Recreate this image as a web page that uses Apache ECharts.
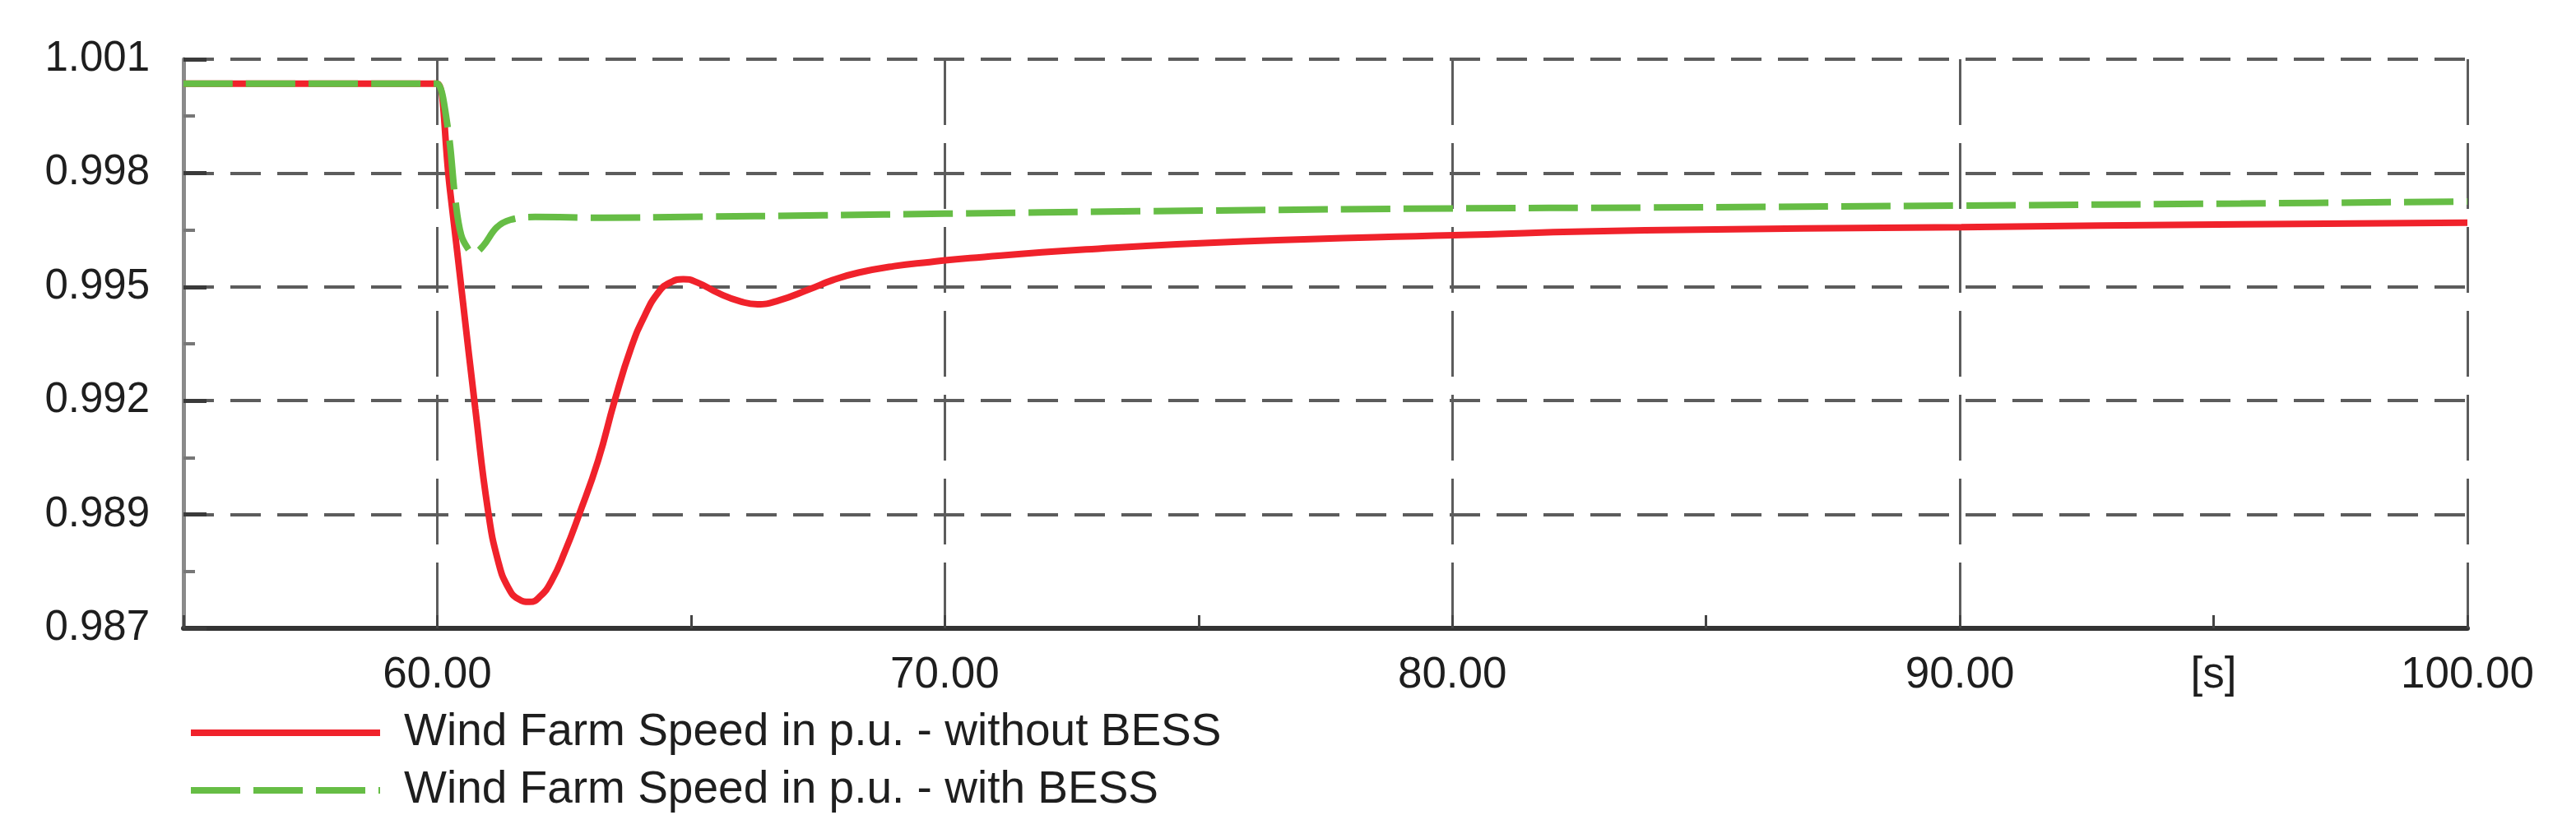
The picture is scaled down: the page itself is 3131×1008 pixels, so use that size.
<!DOCTYPE html>
<html>
<head>
<meta charset="utf-8">
<script src="https://cdn.jsdelivr.net/npm/echarts@6/dist/echarts.min.js"></script>
<style>
html,body{margin:0;padding:0;background:#fff;}
#chart{width:3131px;height:1008px;}
</style>
</head>
<body>
<div id="chart"></div>
<script>
// ---- data ----
const redName = 'Wind Farm Speed in p.u. - without BESS';
const greenName = 'Wind Farm Speed in p.u. - with BESS';

const redTime  = [55, 59.95, 60.0, 60.25, 60.5, 60.75, 61.0, 61.2, 61.4, 61.6, 61.82, 62.03, 62.25, 62.52, 62.79, 63.17, 63.5, 63.82, 64.09, 64.36, 64.58, 64.85, 65.12, 65.55, 65.98, 66.31, 66.74, 67.33, 67.8, 68.3, 69.0, 69.7, 70.5, 72.78, 75.88, 80.02, 83.8, 90.03, 95.53, 100];
const redSpeed = [1.0004, 1.0004, 1.0004, 0.99780, 0.99510, 0.99240, 0.98990, 0.98865, 0.98800, 0.98772, 0.98765, 0.98779, 0.98816, 0.98890, 0.98978, 0.99113, 0.99262, 0.99390, 0.99470, 0.99527, 0.99550, 0.99559, 0.99551, 0.99524, 0.99504, 0.99497, 0.99507, 0.99534, 0.99557, 0.99575, 0.99591, 0.99601, 0.99611, 0.99632, 0.99652, 0.99667, 0.99679, 0.99687, 0.99694, 0.99698];

const greenTime  = [55, 59.95, 60.0, 60.2, 60.36, 60.47, 60.6, 60.71, 60.9, 61.17, 61.44, 61.93, 63.27, 64.9, 67.6, 70.0, 73.81, 80.0, 83.8, 90.03, 95.53, 100];
const greenSpeed = [1.0004, 1.0004, 1.0004, 0.99938, 0.99751, 0.99668, 0.99635, 0.99623, 0.99640, 0.99686, 0.99705, 0.99712, 0.99710, 0.99712, 0.99716, 0.99720, 0.99726, 0.99733, 0.99735, 0.99740, 0.99745, 0.99750];

const yTickLabels = ['0.987', '0.989', '0.992', '0.995', '0.998', '1.001'];
const xTickLabels = {60: '60.00', 70: '70.00', 80: '80.00', 90: '90.00', 95: '[s]', 100: '100.00'};

const yMin = 0.987, yMax = 1.001, yStep = 0.0028;
const xMin = 55, xMax = 100, xStep = 5;

const zip = (a, b) => a.map((t, i) => [t, b[i]]);
const FONT = 'Liberation Sans';

const chart = echarts.init(document.getElementById('chart'));
chart.setOption({
  animation: false,
  backgroundColor: '#fff',
  grid: {left: 223, right: 132, top: 72, bottom: 244, containLabel: false},
  xAxis: {
    type: 'value', min: xMin, max: xMax, interval: xStep,
    axisLine: {show: true, lineStyle: {color: '#333', width: 6}},
    axisTick: {show: true, inside: true, length: 16, lineStyle: {color: '#444', width: 3}},
    axisLabel: {
      margin: 31, fontSize: 53, fontFamily: FONT, color: '#1e1e1e',
      formatter: v => xTickLabels[Math.round(v)] || ''
    },
    splitLine: {show: true, lineStyle: {color: ['rgba(0,0,0,0)', '#5c5c5c'], width: 3, type: [80, 22]}}
  },
  yAxis: {
    type: 'value', min: yMin, max: yMax, interval: yStep,
    axisLine: {show: true, lineStyle: {color: '#8a8a8a', width: 5}},
    axisTick: {show: true, inside: true, length: 28, lineStyle: {color: '#3a3a3a', width: 5}},
    minorTick: {show: true, splitNumber: 2, length: 14, lineStyle: {color: '#777', width: 4}},
    axisLabel: {
      margin: 41, fontSize: 51, fontFamily: FONT, color: '#1e1e1e',
      formatter: v => yTickLabels[Math.round((v - yMin) / yStep)]
    },
    splitLine: {show: true, lineStyle: {color: '#5c5c5c', width: 4, type: [37, 20]}}
  },
  legend: {
    orient: 'vertical', left: 223, top: 857,
    itemWidth: 230, itemHeight: 4, itemGap: 12,
    itemStyle: {opacity: 0},
    lineStyle: {width: 8},
    textStyle: {fontSize: 55, fontFamily: FONT, color: '#1e1e1e', lineHeight: 58, padding: [0, 0, 0, 24]},
    data: [redName, greenName]
  },
  series: [
    {
      name: redName, type: 'line', showSymbol: false, symbol: 'none',
      smooth: 0.5,
      lineStyle: {color: '#f0222b', width: 8},
      itemStyle: {color: '#f0222b'},
      data: zip(redTime, redSpeed)
    },
    {
      name: greenName, type: 'line', showSymbol: false, symbol: 'none',
      smooth: 0.4,
      lineStyle: {color: '#66bd45', width: 8, type: [60, 16]},
      itemStyle: {color: '#66bd45'},
      data: zip(greenTime, greenSpeed)
    }
  ]
});
</script>
</body>
</html>
